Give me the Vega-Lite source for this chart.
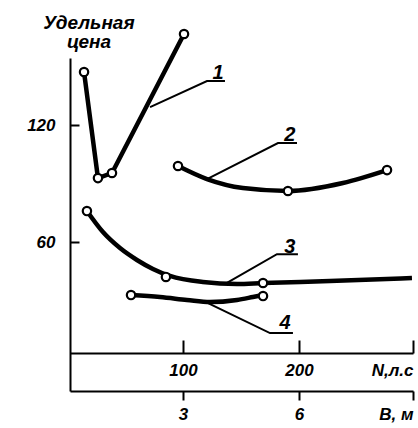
{
  "$schema": "https://vega.github.io/schema/vega-lite/v6.json",
  "width": 343,
  "height": 333,
  "autosize": {"type": "none"},
  "padding": {"left": 70, "top": 58, "right": 5, "bottom": 37},
  "background": "white",
  "config": {
    "view": {"stroke": null},
    "font": "Liberation Sans",
    "axis": {"grid": false, "domainColor": "black", "tickColor": "black", "labelColor": "black", "domainWidth": 2, "tickWidth": 2, "labelFont": "Liberation Sans", "labelFontStyle": "italic", "labelFontWeight": "bold", "labelFontSize": 17, "labelFlush": false, "labelOverlap": false, "title": null}
  },
  "title": {"text": ["Удельная", "цена"], "anchor": "start", "frame": "group", "align": "center", "dx": 19, "offset": -27, "fontSize": 19, "fontStyle": "italic", "fontWeight": "bold", "font": "Liberation Sans", "color": "black", "lineHeight": 19},
  "datasets": {
    "curves": [
      {"c": "1", "N": 14.7, "v": 147.2}, {"c": "1", "N": 26.7, "v": 92.8}, {"c": "1", "N": 38.8, "v": 95.4}, {"c": "1", "N": 100.9, "v": 166.7},
      {"c": "2", "N": 95.7, "v": 99.0}, {"c": "2", "N": 120.7, "v": 92.3}, {"c": "2", "N": 151.7, "v": 87.7}, {"c": "2", "N": 190.5, "v": 86.2}, {"c": "2", "N": 237.9, "v": 90.3}, {"c": "2", "N": 275.9, "v": 96.9},
      {"c": "3", "N": 17.2, "v": 75.9}, {"c": "3", "N": 31.0, "v": 65.1}, {"c": "3", "N": 45.7, "v": 56.9}, {"c": "3", "N": 60.3, "v": 50.8}, {"c": "3", "N": 74.1, "v": 46.2}, {"c": "3", "N": 88.8, "v": 42.6}, {"c": "3", "N": 117.2, "v": 39.5}, {"c": "3", "N": 146.6, "v": 38.5}, {"c": "3", "N": 169.0, "v": 39.0}, {"c": "3", "N": 226.7, "v": 40.0}, {"c": "3", "N": 297.4, "v": 41.5},
      {"c": "4", "N": 55.2, "v": 32.8}, {"c": "4", "N": 80.2, "v": 31.8}, {"c": "4", "N": 103.4, "v": 30.3}, {"c": "4", "N": 123.3, "v": 29.2}, {"c": "4", "N": 146.6, "v": 30.3}, {"c": "4", "N": 160.3, "v": 31.8}, {"c": "4", "N": 169.0, "v": 32.8}
    ],
    "markers": [
      {"c": "1", "N": 14.7, "v": 147.2}, {"c": "1", "N": 26.7, "v": 92.8}, {"c": "1", "N": 38.8, "v": 95.4}, {"c": "1", "N": 100.9, "v": 166.7},
      {"c": "2", "N": 95.7, "v": 99.0}, {"c": "2", "N": 190.5, "v": 86.2}, {"c": "2", "N": 275.9, "v": 96.9},
      {"c": "3", "N": 17.2, "v": 75.9}, {"c": "3", "N": 85.3, "v": 42.1}, {"c": "3", "N": 169.0, "v": 39.0},
      {"c": "4", "N": 55.2, "v": 32.8}, {"c": "4", "N": 169.0, "v": 32.3}
    ],
    "leaders": [
      {"c": "1", "N": 71.6, "v": 129.2}, {"c": "1", "N": 120.7, "v": 142.6}, {"c": "1", "N": 136.2, "v": 142.6},
      {"c": "2", "N": 120.7, "v": 92.3}, {"c": "2", "N": 181.9, "v": 110.8}, {"c": "2", "N": 198.3, "v": 110.8},
      {"c": "3", "N": 137.9, "v": 39.0}, {"c": "3", "N": 181.0, "v": 53.8}, {"c": "3", "N": 199.1, "v": 53.8},
      {"c": "4", "N": 121.6, "v": 28.7}, {"c": "4", "N": 175.0, "v": 13.3}, {"c": "4", "N": 194.8, "v": 13.3}
    ],
    "labels": [
      {"c": "1", "N": 130.2, "v": 146.7},
      {"c": "2", "N": 192.2, "v": 114.9},
      {"c": "3", "N": 192.2, "v": 57.4},
      {"c": "4", "N": 187.9, "v": 18.5}
    ],
    "bticks": [{"B": 3}, {"B": 6}]
  },
  "resolve": {"scale": {"x": "independent"}},
  "layer": [
    {
      "layer": [
        {
          "data": {"name": "curves"},
          "transform": [{"filter": "datum.c == '1'"}],
          "mark": {"type": "line", "color": "black", "strokeWidth": 4.5, "interpolate": "linear", "clip": false},
          "encoding": {
            "x": {"field": "N", "type": "quantitative", "scale": {"domain": [2.6, 298.3], "nice": false, "zero": false},
              "axis": {"orient": "bottom", "offset": -38, "values": [100, 200, 298.3], "tickSize": -13, "labelPadding": 22,
                "labelExpr": "datum.value > 250 ? 'N,л.с' : datum.label",
                "labelAlign": {"condition": {"test": "datum.value > 250", "value": "right"}, "value": "center"}}},
            "y": {"field": "v", "type": "quantitative", "scale": {"domain": [-16.4, 154.4], "nice": false, "zero": false},
              "axis": {"values": [60, 120], "tickSize": -9, "labelPadding": 24}},
            "detail": {"field": "c"}
          }
        },
        {
          "data": {"name": "curves"},
          "transform": [{"filter": "datum.c != '1'"}],
          "mark": {"type": "line", "color": "black", "strokeWidth": 4.5, "interpolate": "monotone", "clip": false},
          "encoding": {
            "x": {"field": "N", "type": "quantitative"},
            "y": {"field": "v", "type": "quantitative"},
            "detail": {"field": "c"}
          }
        },
        {
          "data": {"name": "leaders"},
          "mark": {"type": "line", "color": "black", "strokeWidth": 2, "clip": false},
          "encoding": {
            "x": {"field": "N", "type": "quantitative"},
            "y": {"field": "v", "type": "quantitative"},
            "detail": {"field": "c"}
          }
        },
        {
          "data": {"name": "markers"},
          "mark": {"type": "point", "shape": "circle", "filled": false, "fill": "white", "fillOpacity": 1, "stroke": "black", "strokeWidth": 2.2, "size": 70, "opacity": 1, "clip": false},
          "encoding": {
            "x": {"field": "N", "type": "quantitative"},
            "y": {"field": "v", "type": "quantitative"}
          }
        },
        {
          "data": {"name": "labels"},
          "mark": {"type": "text", "font": "Liberation Sans", "fontSize": 20, "fontStyle": "italic", "fontWeight": "bold", "color": "black", "baseline": "middle", "align": "center", "clip": false},
          "encoding": {
            "x": {"field": "N", "type": "quantitative"},
            "y": {"field": "v", "type": "quantitative"},
            "text": {"field": "c"}
          }
        }
      ]
    },
    {
      "data": {"name": "bticks"},
      "mark": {"type": "point", "opacity": 0},
      "encoding": {
        "x": {"field": "B", "type": "quantitative", "scale": {"domain": [0.078, 8.95], "nice": false, "zero": false},
          "axis": {"orient": "bottom", "offset": 0, "values": [3, 6, 8.95], "tickSize": 9, "labelPadding": 6,
            "labelExpr": "datum.value > 8 ? 'В, м' : datum.label",
            "labelAlign": {"condition": {"test": "datum.value > 8", "value": "right"}, "value": "center"}}}
      }
    }
  ]
}
